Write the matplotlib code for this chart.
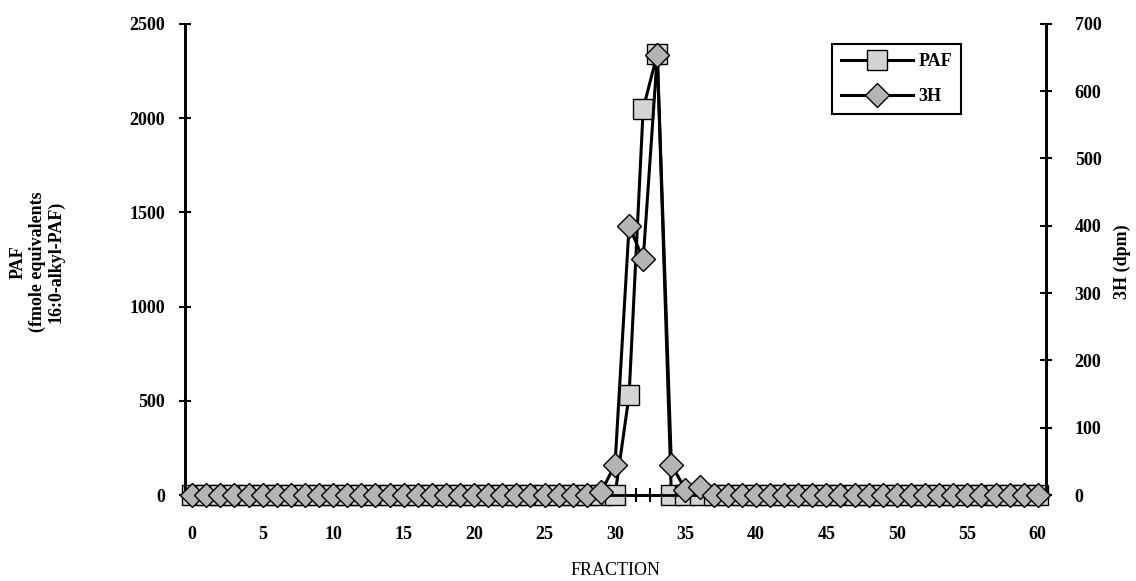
import numpy as np
import matplotlib.pyplot as plt

plt.rcParams['font.family'] = ['Liberation Serif', 'DejaVu Serif']
plt.rcParams['font.weight'] = 'bold'

# data
fraction = np.arange(0, 61)
paf = np.zeros(61)
paf[31] = 530
paf[32] = 2050
paf[33] = 2340
h3 = np.zeros(61)
h3[29] = 4
h3[30] = 45
h3[31] = 400
h3[32] = 350
h3[33] = 653
h3[34] = 45
h3[35] = 8
h3[36] = 12

fs = 13

fig = plt.figure(figsize=(11.36, 5.81), dpi=100)
ax1 = fig.add_axes([0.163, 0.148, 0.758, 0.811])
ax2 = ax1.twinx()

l1, = ax1.plot(fraction, paf, color='black', lw=2.2, marker='s', ms=14,
               mfc='#d4d4d4', mec='black', mew=1.0, clip_on=False, zorder=3)
l2, = ax2.plot(fraction, h3, color='black', lw=2.2, marker='D', ms=12,
               mfc='#b4b4b4', mec='black', mew=1.0, clip_on=False, zorder=3)

ax1.set_xlim(-0.5, 60.6)
ax1.set_ylim(0, 2500)
ax2.set_ylim(0, 700)

ax1.set_xticks(np.arange(0, 61, 5))
ax1.set_xticks(np.arange(-0.5, 61, 1), minor=True)
ax1.tick_params(axis='x', which='major', length=0, pad=22, labelsize=fs)
ax1.tick_params(axis='x', which='minor', direction='inout', length=10, width=1.5)
ax1.set_yticks(np.arange(0, 2501, 500))
ax1.tick_params(axis='y', direction='inout', length=9, width=1.5, labelsize=fs, pad=10)
ax2.set_yticks(np.arange(0, 701, 100))
ax2.tick_params(axis='y', direction='inout', length=9, width=1.5, labelsize=fs, pad=16)

for ax in (ax1, ax2):
    ax.spines['top'].set_visible(False)
    for s in ('left', 'right', 'bottom'):
        ax.spines[s].set_linewidth(2)

ax1.set_xlabel('FRACTION', fontsize=fs, labelpad=14)
fig.text(37 / 1136, 1 - 262 / 581, 'PAF\n(fmole equivalents\n16:0-alkyl-PAF)',
         fontsize=fs, rotation=90, ha='center', va='center', multialignment='center',
         linespacing=1.15)
fig.text(1122 / 1136, 1 - 262 / 581, '3H (dpm)', fontsize=fs, rotation=90,
         ha='center', va='center')

leg = ax2.legend([l1, l2], ['PAF', '3H'], loc='upper left',
                 bbox_to_anchor=(0.751, 0.957), borderaxespad=0, fontsize=fs,
                 handlelength=4.0, labelspacing=1.0, fancybox=False, framealpha=1,
                 borderpad=0.5, handletextpad=0.3)
leg.get_frame().set_edgecolor('black')
leg.get_frame().set_linewidth(1.5)

fig.savefig('out.png', dpi=100)
